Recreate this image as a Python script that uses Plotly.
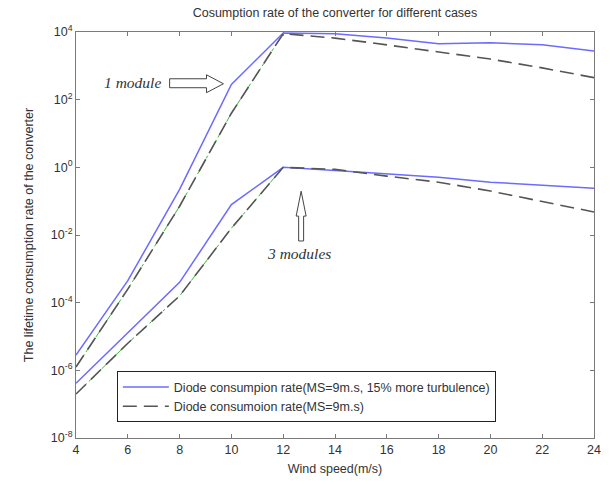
import plotly.graph_objects as go

wind = [4, 6, 8, 10, 12, 14, 16, 18, 20, 22, 24]
wind_low = [4, 6, 8, 10, 12]

# log10 values
one_mod_turb = [-5.55, -3.35, -0.65, 2.45, 3.97, 3.95, 3.82, 3.65, 3.68, 3.62, 3.44]
one_mod_base = [-5.9, -3.6, -1.15, 1.6, 3.95, 3.82, 3.62, 3.41, 3.2, 2.94, 2.65]
three_mod_turb = [-6.38, -4.9, -3.4, -1.1, 0.0, -0.09, -0.18, -0.29, -0.44, -0.53, -0.62]
three_mod_base = [-6.7, -5.2, -3.8, -1.8, 0.0, -0.06, -0.26, -0.44, -0.7, -1.0, -1.32]

def p(v):
    return [10 ** x for x in v]

fig = go.Figure()
# faint green dash-dot lines beneath the dashed curves (left part)
for vals in (one_mod_base, three_mod_base):
    fig.add_trace(go.Scatter(x=wind_low, y=p(vals[:5]), mode="lines",
                             line=dict(color="#33bb33", width=1, dash="dashdot"),
                             showlegend=False, hoverinfo="skip"))

fig.add_trace(go.Scatter(x=wind, y=p(one_mod_turb), mode="lines",
                         line=dict(color="#6b6bff", width=1.5),
                         name="Diode consumpion rate(MS=9m.s, 15% more turbulence)"))
fig.add_trace(go.Scatter(x=wind, y=p(one_mod_base), mode="lines",
                         line=dict(color="#555555", width=1.6, dash="14px,7px"),
                         name="Diode consumoion rate(MS=9m.s)"))
fig.add_trace(go.Scatter(x=wind, y=p(three_mod_turb), mode="lines",
                         line=dict(color="#6b6bff", width=1.5), showlegend=False))
fig.add_trace(go.Scatter(x=wind, y=p(three_mod_base), mode="lines",
                         line=dict(color="#555555", width=1.6, dash="14px,7px"), showlegend=False))

L, R, T, B = 76, 596, 32, 440
W, H = 613, 486

def px(x):
    return (x - L) / (R - L)

def py(y):
    return (B - y) / (B - T)

def path(pts):
    return "M " + " L ".join(f"{px(a):.5f},{py(b):.5f}" for a, b in pts) + " Z"

# hollow right arrow (1 module)
right_arrow = [(170, 79), (207, 79), (207, 75), (224, 84), (207, 93), (207, 88), (170, 88)]
# hollow up arrow (3 modules)
up_arrow = [(299.5, 242), (299.5, 217), (297, 217), (302, 192), (307, 217), (304.5, 217), (304.5, 242)]
shapes = []
for pts in (right_arrow, up_arrow):
    shapes.append(dict(type="path", xref="paper", yref="paper", path=path(pts),
                       line=dict(color="#444444", width=1), fillcolor="white"))

ann_font = dict(family="Liberation Serif", size=15.5, color="#333333")
annotations = [
    dict(x=px(133), y=py(83), xref="paper", yref="paper", text="<i>1 module</i>",
         xanchor="center", yanchor="middle", showarrow=False, font=ann_font),
    dict(x=px(300), y=py(255), xref="paper", yref="paper", text="<i>3 modules</i>",
         xanchor="center", yanchor="middle", showarrow=False, font=ann_font),
]

axis_common = dict(showline=True, linecolor="#7a7a7a", linewidth=1, mirror="ticks",
                   ticks="inside", ticklen=4, tickcolor="#7a7a7a", showgrid=False,
                   zeroline=False, tickfont=dict(family="Liberation Sans", size=12.5, color="#333333"))

fig.update_layout(
    width=W, height=H,
    margin=dict(l=L, r=W - R, t=T, b=H - B),
    plot_bgcolor="white", paper_bgcolor="white",
    title=dict(text="Cosumption rate of the converter for different cases",
               x=px(336), xref="paper", y=1 - 13 / H, yanchor="middle",
               font=dict(family="Liberation Sans", size=12.5, color="#333333")),
    xaxis=dict(range=[4, 24], tickvals=list(range(4, 25, 2)),
               title=dict(text="Wind speed(m/s)", standoff=8,
                          font=dict(family="Liberation Sans", size=12.5, color="#333333")),
               **axis_common),
    yaxis=dict(type="log", range=[-8, 4], tickvals=[1e-8, 1e-6, 1e-4, 1e-2, 1, 1e2, 1e4],
               ticktext=["10<sup>-8</sup>", "10<sup>-6</sup>", "10<sup>-4</sup>", "10<sup>-2</sup>",
                         "10<sup>0</sup>", "10<sup>2</sup>", "10<sup>4</sup>"],
               title=dict(text="The lifetime consumption rate of the converter", standoff=14,
                          font=dict(family="Liberation Sans", size=12.5, color="#333333")),
               **axis_common),
    legend=dict(x=px(117), y=py(373), xanchor="left", yanchor="top",
                bgcolor="white", bordercolor="#222222", borderwidth=1,
                font=dict(family="Liberation Sans", size=12.5, color="#333333"),
                itemwidth=46, tracegroupgap=0),
    shapes=shapes, annotations=annotations,
)

fig.write_html("out.html")
